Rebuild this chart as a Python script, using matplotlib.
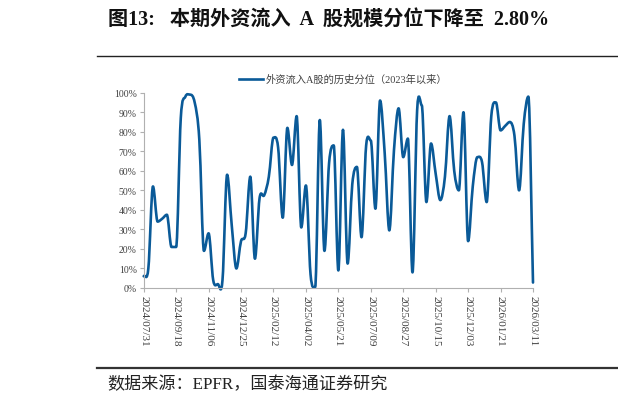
import numpy as np
import matplotlib
matplotlib.use("Agg")
import matplotlib.pyplot as plt
from matplotlib.path import Path
from matplotlib.patches import PathPatch
from matplotlib.lines import Line2D

plt.rcParams['font.family'] = ['Liberation Serif', 'Noto Sans CJK SC', 'DejaVu Sans']

# weekly percentile of foreign inflow into A shares (%)
pct = [6, 10, 52, 34, 35.5, 37.5, 21, 21, 87, 98,
       99, 95, 76, 19, 28, 4, 2, 4, 58, 32,
       10, 24, 28, 57, 15, 46, 47.5, 57, 77, 72,
       36, 82, 63, 88, 31, 52.5, 7, 0.5, 86, 19,
       64, 73, 9, 81, 12.5, 53, 62, 26, 73, 75.5,
       40.6, 96, 69, 29.5, 70.5, 92, 67, 76.5, 8, 91,
       93.5, 44, 74, 58.5, 45, 57, 88, 60, 50, 90,
       24, 52, 67, 64.5, 44, 88, 95, 80.7, 83, 85,
       78, 50, 84, 98, 2.8]
tick_labels = ['2024/07/31', '2024/09/18', '2024/11/06', '2024/12/25', '2025/02/12',
               '2025/04/02', '2025/05/21', '2025/07/09', '2025/08/27', '2025/10/15',
               '2025/12/03', '2026/01/21', '2026/03/11']
series_name = '外资流入A股的历史分位（2023年以来）'
title = '图13:   本期外资流入  A  股规模分位下降至  2.80%'
source = '数据来源：EPFR，国泰海通证券研究'

blue = '#0a5a98'
W, H = 618, 406
fig = plt.figure(figsize=(W / 100, H / 100), dpi=100)
ax = fig.add_axes([143.7 / W, 1 - 289 / H, (533 - 143.7) / W, (289 - 93.7) / H])

# smoothed line through the weekly points, flat tangents at local peaks/valleys
x = np.arange(len(pct), dtype=float)
y = np.array(pct, dtype=float)
n = len(x)
m = np.zeros(n)
for i in range(n):
    a, b = max(i - 1, 0), min(i + 1, n - 1)
    m[i] = (y[b] - y[a]) / (b - a)
    if 0 < i < n - 1 and (y[i] - y[i - 1]) * (y[i + 1] - y[i]) <= 0:
        m[i] = 0
verts = [(x[0], y[0])]
codes = [Path.MOVETO]
for i in range(n - 1):
    verts += [(x[i] + 1 / 3, y[i] + m[i] / 3),
              (x[i + 1] - 1 / 3, y[i + 1] - m[i + 1] / 3),
              (x[i + 1], y[i + 1])]
    codes += [Path.CURVE4] * 3
ax.add_patch(PathPatch(Path(verts, codes), fill=False, edgecolor=blue, lw=1.9,
                       capstyle='round', joinstyle='round', clip_on=False))

ax.set_xlim(0, n - 1)
ax.set_ylim(0, 100)
ax.set_yticks(np.arange(0, 101, 10))
ax.set_yticklabels([f'{v}%' for v in range(0, 101, 10)])
ax.set_xticks(np.arange(0, n, 7))
ax.set_xticklabels(tick_labels, rotation=-90)
for s in ['top', 'right']:
    ax.spines[s].set_visible(False)
for s in ['left', 'bottom']:
    ax.spines[s].set_color('#b0b0b0')
    ax.spines[s].set_linewidth(0.8)
ax.tick_params(axis='both', colors='#b0b0b0', length=3, width=0.8, labelcolor='#404040',
               labelsize=7)
ax.tick_params(axis='x', pad=2, labelsize=8)
ax.tick_params(axis='y', pad=2)

# legend above the plot
fig.add_artist(Line2D([239 / W, 263 / W], [1 - 80 / H] * 2, color=blue, lw=1.9))
fig.text(266 / W, 1 - 80 / H, series_name, fontsize=7.4, color='#404040', va='center')

fig.text(108 / W, 1 - 21 / H, title, fontsize=14.5, fontweight='bold', color='#111111',
         va='center')
fig.add_artist(Line2D([97 / W, 1], [1 - 57 / H] * 2, color='#222222', lw=1.0))
fig.add_artist(Line2D([97 / W, 1], [1 - 369 / H] * 2, color='#333333', lw=1.6))
fig.text(107 / W, 1 - 385 / H, source, fontsize=12.3, color='#222222', va='center')

fig.savefig('out.png', dpi=100)
